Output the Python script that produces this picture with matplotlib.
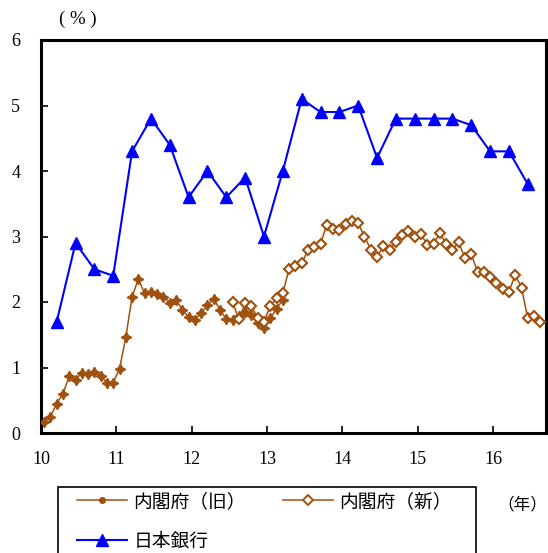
import matplotlib.pyplot as plt
from matplotlib.lines import Line2D
from matplotlib.patches import Rectangle
import numpy as np

# 内閣府（旧）: monthly, 2010/1 - 2013/3
old_vals = [0.17, 0.25, 0.45, 0.60, 0.87, 0.81, 0.92, 0.90, 0.93, 0.87, 0.77, 0.77,
            0.98, 1.46, 2.08, 2.35, 2.13, 2.16, 2.12, 2.08, 1.99, 2.03, 1.88, 1.77,
            1.73, 1.83, 1.95, 2.05, 1.88, 1.74, 1.72, 1.78, 1.85, 1.80, 1.68, 1.60,
            1.75, 1.90, 2.03]
old_start = 0  # month index from 2010/1

# 内閣府（新）: monthly, 2012/7 - 2016/8
new_vals = [2.00, 1.74, 1.98, 1.94, 1.75, 1.70,
            1.94, 2.06, 2.13, 2.51, 2.55, 2.59, 2.79, 2.84, 2.89, 3.18, 3.12, 3.10,
            3.19, 3.23, 3.20, 3.00, 2.80, 2.69, 2.85, 2.80, 2.91, 3.02, 3.08, 2.99,
            3.04, 2.87, 2.88, 3.06, 2.88, 2.80, 2.91, 2.67, 2.73, 2.46, 2.46, 2.38,
            2.29, 2.20, 2.16, 2.41, 2.22, 1.75, 1.79, 1.70]
new_start = 30

# 日本銀行: quarterly (Mar, Jun, Sep, Dec), 2010/3 - 2016/6
boj_vals = [1.7, 2.9, 2.5, 2.4, 4.3, 4.8, 4.4, 3.6, 4.0, 3.6, 3.9, 3.0,
            4.0, 5.1, 4.9, 4.9, 5.0, 4.2, 4.8, 4.8, 4.8, 4.8, 4.7, 4.3, 4.3, 3.8]

brown = '#A0500F'
blue = '#0000FF'
W, H = 548, 553


def month_x(start, n):
    k = np.arange(start, start + n)
    return 10 + (k + 0.5) / 12


old_x = month_x(old_start, len(old_vals))
new_x = month_x(new_start, len(new_vals))
boj_x = 10 + (np.arange(len(boj_vals)) * 3 + 2.5) / 12

fig = plt.figure(figsize=(W / 100, H / 100), dpi=100)
ax = fig.add_axes([41 / W, 1 - 433 / H, 505 / W, 393 / H])

ax.plot(old_x, old_vals, color=brown, lw=1.1, marker=(4, 1, 0), ms=7.5,
        mfc=brown, mec=brown, zorder=3)
ax.plot(new_x, new_vals, color=brown, lw=1.1, marker='D', ms=5.5,
        mfc='white', mec=brown, mew=1.5, zorder=4)
ax.plot(boj_x, boj_vals, color=blue, lw=1.5, marker='^', ms=9,
        mfc=blue, mec=blue, zorder=5)

ax.set_xlim(10, 16.7)
ax.set_ylim(0, 6)
ax.set_xticks(range(10, 17))
ax.set_yticks(range(0, 7))
for s in ax.spines.values():
    s.set_linewidth(2.2)
ax.tick_params(direction='in', length=5, width=1.2, labelsize=13)
ax.tick_params(axis='x', pad=13)
ax.tick_params(axis='y', pad=15)
for lab in ax.get_xticklabels() + ax.get_yticklabels():
    lab.set_fontfamily('Liberation Serif')

fig.text(78 / W, 1 - 19 / H, '( % )', ha='center', va='center',
         fontsize=13.5, family='Liberation Serif')
fig.text(522 / W, 1 - 505 / H, '（年）', ha='center', va='center',
         fontsize=12, family=['Noto Sans CJK JP', 'DejaVu Sans'])

# legend box, open at the bottom edge of the figure
fig.patches.append(Rectangle((58 / W, -0.02), (476 - 58) / W, 0.02 + (H - 487) / H,
                             transform=fig.transFigure, fill=False,
                             edgecolor='black', lw=1.2))

handles = [
    Line2D([], [], color=brown, lw=1.1, marker='o', ms=4, mfc=brown, mec=brown),
    Line2D([], [], color=blue, lw=1.5, marker='^', ms=9, mfc=blue, mec=blue),
    Line2D([], [], color=brown, lw=1.1, marker='D', ms=5, mfc='white', mec=brown, mew=1.4),
]
labels = ['内閣府（旧）', '日本銀行', '内閣府（新）']
fig.legend(handles, labels, loc='upper left', ncol=2,
           bbox_to_anchor=(77 / W, 1 - 491 / H),
           prop={'family': ['Noto Sans CJK JP', 'DejaVu Sans'], 'size': 13.5},
           frameon=False, handlelength=2.65, columnspacing=2.0, borderpad=0,
           labelspacing=1.0, handletextpad=0.35, borderaxespad=0)

fig.savefig('out.png', dpi=100)
